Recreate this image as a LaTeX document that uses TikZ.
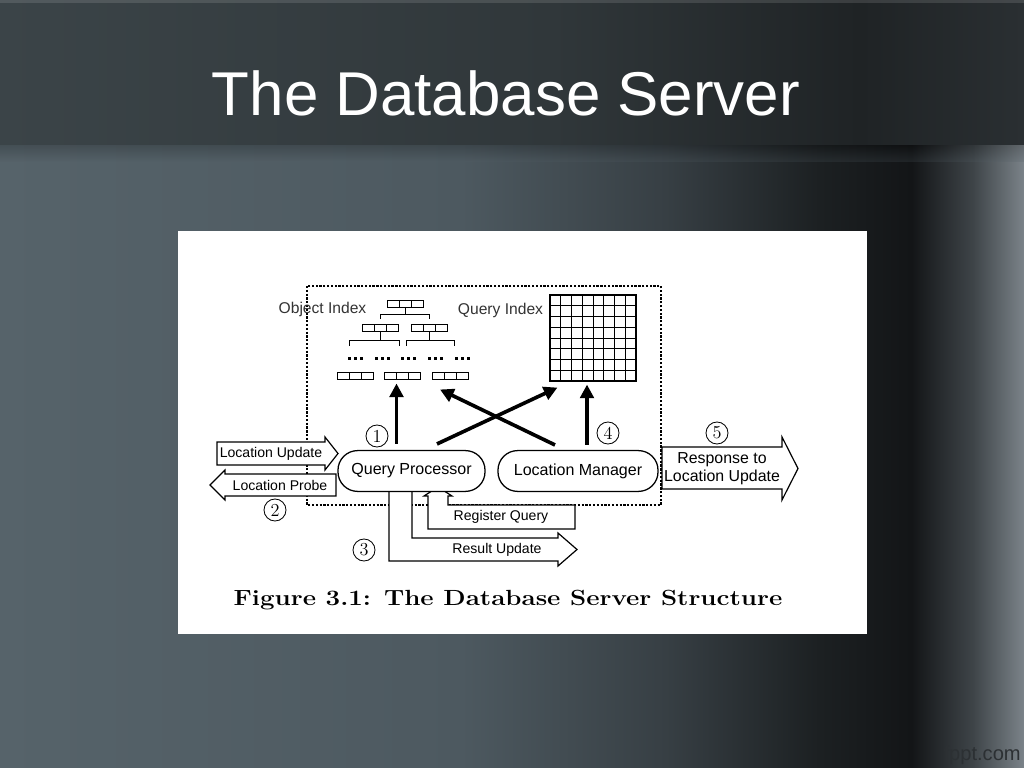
\documentclass[tikz,border=0pt]{standalone}
\usepackage{fontspec}
\newfontfamily\arialf{Liberation Sans}
\usetikzlibrary{positioning, calc, arrows.meta}

\definecolor{bandA}{HTML}{3B4448}
\definecolor{bandB}{HTML}{30373A}
\definecolor{bandC}{HTML}{1F2325}
\definecolor{bandD}{HTML}{2A2F32}
\definecolor{lowA}{HTML}{56636A}
\definecolor{lowB}{HTML}{4D5960}
\definecolor{lowC}{HTML}{373F44}
\definecolor{lowD}{HTML}{1C2022}
\definecolor{lowE}{HTML}{131517}
\definecolor{lowF}{HTML}{3E4448}
\definecolor{lowG}{HTML}{7B8389}
\definecolor{markgray}{HTML}{2C3033}

% stops sit in the middle half (25bp..75bp), which is what the path gets
\pgfdeclarehorizontalshading{bandbg}{100bp}{color(0bp)=(bandA); color(25bp)=(bandA); color(52bp)=(bandB); color(67bp)=(bandC); color(75bp)=(bandD); color(100bp)=(bandD)}
\pgfdeclarehorizontalshading{lowbg}{100bp}{color(0bp)=(lowA); color(25bp)=(lowA); color(47.5bp)=(lowB); color(57.5bp)=(lowC); color(65bp)=(lowD); color(69.5bp)=(lowE); color(72.5bp)=(lowF); color(75bp)=(lowG); color(100bp)=(lowG)}

\tikzset{
  proc/.style={draw, line width=0.9pt, fill=white, rounded corners=0.49cm,
    minimum height=1.02cm, inner sep=0pt, font=\arialf\fontsize{11.4}{13}\selectfont},
  blockarrow/.style={draw, fill=white, line width=0.85pt, line join=miter},
  lbl/.style={font=\arialf\fontsize{10}{12}\selectfont, inner sep=0pt},
  biglbl/.style={font=\arialf\fontsize{11.3}{13.2}\selectfont, align=center, inner sep=0pt},
  idxlbl/.style={font=\arialf\fontsize{11.1}{13}\selectfont, inner sep=0pt, text=black!80},
  numc/.style={draw, circle, line width=0.6pt, minimum size=0.55cm, inner sep=0pt,
    font=\fontsize{13}{13}\selectfont},
  bigarrow/.style={line width=2.6pt, -{Triangle[length=3.4mm, width=3.4mm]}},
  tree/.style={line width=0.7pt},
  dashbox/.style={line width=0.9pt, dash pattern=on 1.6pt off 1.1pt},
  idxbox/.pic={
    \node[draw, line width=0.7pt, minimum width=0.9cm, minimum height=0.175cm, inner sep=0pt] (-b) {};
    \draw[line width=0.7pt] (-6,-3.5) -- (-6,3.5) (6,-3.5) -- (6,3.5);
  }
}

\begin{document}
\begin{tikzpicture}[x=0.025cm, y=-0.025cm]
    \useasboundingbox (0,0) rectangle (1024,768);
    % slide background
    \shade[shading=lowbg] (0,145) rectangle (1024,768);
    \shade[top color=black, bottom color=lowA, opacity=0.2] (0,145) rectangle (1024,162);
    \shade[shading=bandbg] (0,0) rectangle (1024,145);
    \fill[white, opacity=0.12] (0,0) rectangle (1024,3);
    \node[font=\arialf\fontsize{44}{50}\selectfont, text=white, inner sep=0pt, anchor=base] (title) at (506,116) {The Database Server};
    \node[font=\arialf\fontsize{14.3}{16}\selectfont, text=markgray, inner sep=0pt, anchor=base east] (fppt) at (1021,760) {fppt.com};

    % figure panel
    \fill[white] (178,231) rectangle (867,634);
    \draw[dashbox] (307,286) rectangle (661,505);

    % block arrows
    \draw[blockarrow] (217,442) -- (325,442) -- (325,437) -- (338,453.5) -- (325,470) -- (325,465) -- (217,465) -- cycle;
    \node[lbl] (locupd) at (271,453.5) {Location Update};
    \draw[blockarrow] (336,474) -- (225,474) -- (225,470) -- (210,485) -- (225,500) -- (225,496) -- (336,496) -- cycle;
    \node[lbl] (locprobe) at (280,485) {Location Probe};
    \draw[blockarrow] (412,489) -- (412,538) -- (558,538) -- (558,533) -- (577,549.5) -- (558,566) -- (558,561) -- (389,561) -- (389,489);
    \node[lbl] (resupd) at (497,550) {Result Update};
    \draw[blockarrow] (575,505) -- (448,505) -- (448,496) -- (452,496) -- (438,487) -- (424,496) -- (428,496) -- (428,529) -- (575,529) -- cycle;
    \node[lbl] (regq) at (501,517) {Register Query};
    \draw[blockarrow] (662,447) -- (782,447) -- (782,437) -- (798,468.5) -- (782,500) -- (782,489) -- (662,489) -- cycle;
    \node[biglbl] (resp) at (722,468.5) {Response to\\Location Update};

    % processors
    \node[proc, minimum width=3.675cm] (qp) at (411.5,471) {Query Processor};
    \node[proc, minimum width=4cm] (lm) at (578,471) {Location Manager};

    % object index tree
    \pic (top) at (405,303.5) {idxbox};
    \pic (lA) at (380.5,328) {idxbox};
    \pic (lB) at (429.5,328) {idxbox};
    \pic (fA) at (355,375.5) {idxbox};
    \pic (fB) at (402.5,375.5) {idxbox};
    \pic (fC) at (450,375.5) {idxbox};
    \draw[tree] (top-b.south) -- ++(0,7);
    \draw[tree] ($(lA-b.north)+(0,-5)$) -- ++(0,-5) -| ($(lB-b.north)+(0,-5)$);
    \draw[tree] (lA-b.south) -- ++(0,8);
    \draw[tree] ($(lA-b.south)+(-31,14)$) -- ++(0,-6) -- ++(50,0) -- ++(0,6);
    \draw[tree] (lB-b.south) -- ++(0,8);
    \draw[tree] ($(lB-b.south)+(-23.5,14)$) -- ++(0,-6) -- ++(48,0) -- ++(0,6);
    \foreach \x in {355,382,408,435,462}
        \foreach \d in {-6,0,6}
            \fill (\x+\d-1.5,356.5) rectangle ++(3,3);
    \node[idxlbl] (oidx) at (322.5,309) {Object Index};

    % query index grid
    \node[draw, line width=0.8pt, minimum size=2.15cm, inner sep=0pt] (qgrid) at (593,338) {};
    \foreach \i in {1,...,7} {
        \draw[line width=0.7pt] ($(qgrid.north west)!\i/8!(qgrid.north east)$) -- ($(qgrid.south west)!\i/8!(qgrid.south east)$);
        \draw[line width=0.7pt] ($(qgrid.north west)!\i/8!(qgrid.south west)$) -- ($(qgrid.north east)!\i/8!(qgrid.south east)$);
    }
    \node[idxlbl] (qidx) at (500.5,310) {Query Index};

    % thick arrows
    \draw[bigarrow] ($(qp.north)+(-15,-6)$) -- ($(fB-b.south)+(-6,4)$);
    \draw[bigarrow] ($(qp.north)+(25.5,-6)$) -- ($(qgrid.south west)+(8,6)$);
    \draw[bigarrow] ($(lm.north)+(-23,-5)$) -- ($(fC-b.south)+(-10,10)$);
    \draw[bigarrow] ($(lm.north)+(9,-5)$) -- ($(qgrid.south)+(-6,3)$);

    % step numbers
    \node[numc] (n1) at (377,436) {1};
    \node[numc] (n2) at (275,510) {2};
    \node[numc] (n3) at (364,550) {3};
    \node[numc] (n4) at (608,433) {4};
    \node[numc] (n5) at (717,433) {5};

    % caption
    \node[font=\bfseries\fontsize{15.6}{18}\selectfont, inner sep=0pt, anchor=base] (cap) at (508,605)
        {\scalebox{1.18}[1]{Figure 3.1: The Database Server Structure}};
\end{tikzpicture}
\end{document}
